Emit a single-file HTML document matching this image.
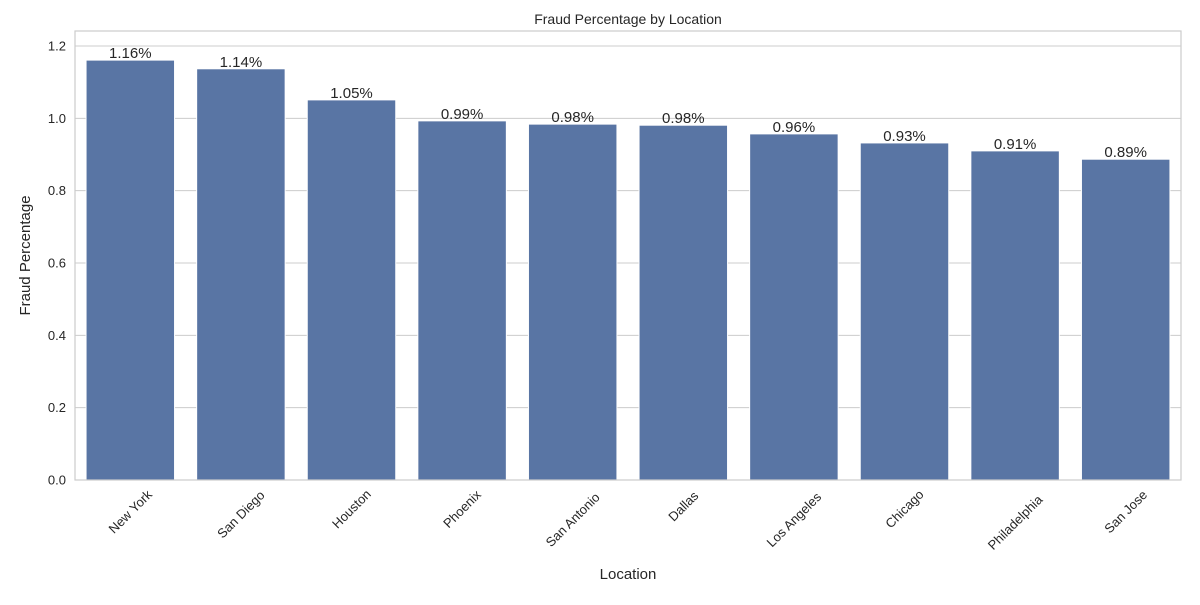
<!DOCTYPE html>
<html><head><meta charset="utf-8"><style>
body{margin:0;background:#fff;}
svg{font-family:"Liberation Sans","DejaVu Sans",sans-serif;}
</style></head><body>
<svg id="chart" width="1200" height="600"></svg>
<script>
const categories=["New York","San Diego","Houston","Phoenix","San Antonio","Dallas","Los Angeles","Chicago","Philadelphia","San Jose"];
const values=[1.161,1.137,1.051,0.993,0.984,0.981,0.957,0.932,0.910,0.887];
const labels=["1.16%","1.14%","1.05%","0.99%","0.98%","0.98%","0.96%","0.93%","0.91%","0.89%"];
const yTicks=[0.0,0.2,0.4,0.6,0.8,1.0,1.2];
const NS="http://www.w3.org/2000/svg";
const svg=document.getElementById('chart');
const L=75,R=1181,T=31,B=480,yMax=1.2*(B-T)/(480-46);
const y=v=>B-(v/yMax)*(B-T);
const slot=(R-L)/categories.length;
const x=i=>L+slot*i;
function mk(tag,a,txt){const e=document.createElementNS(NS,tag);for(const k in a)e.setAttribute(k,a[k]);if(txt!==undefined)e.textContent=txt;svg.appendChild(e);return e;}
yTicks.forEach(t=>{
 const g=mk('line',{x1:L,x2:R,y1:y(t),y2:y(t),stroke:'#cccccc','stroke-width':1});
 
 
 const l=mk('text',{x:L-9,y:y(t)+4.5,'text-anchor':'end','font-size':13,fill:'#262626'},t.toFixed(1));
 
 
});
categories.forEach((c,i)=>{
 const bw=slot*0.8,bx=x(i)+slot*0.1;
 const r=mk('rect',{x:bx,y:y(values[i]),width:bw,height:B-y(values[i]),fill:'#5975a4',stroke:'#ffffff','stroke-width':1});
 
 
 const v=mk('text',{x:bx+bw/2,y:y(values[i])-2,'text-anchor':'middle','font-size':15,fill:'#262626'},labels[i]);
 
 
 const cx=bx+bw/2;
 const ty=B+10+c.length*2.7;
 const t=mk('text',{x:cx,y:ty+4.5,'text-anchor':'middle','font-size':13,fill:'#262626',transform:`rotate(-45 ${cx} ${ty})`},c);
 
 
});
const fr=mk('rect',{x:L,y:T,width:R-L,height:B-T,fill:'none',stroke:'#cccccc','stroke-width':1.2});


const ti=mk('text',{x:(L+R)/2,y:24,'text-anchor':'middle','font-size':14,fill:'#262626'},'Fraud Percentage by Location');


const xt=mk('text',{x:(L+R)/2,y:579,'text-anchor':'middle','font-size':15,fill:'#262626'},'Location');


const yt=mk('text',{x:30,y:(T+B)/2,'text-anchor':'middle','font-size':15,fill:'#262626',transform:`rotate(-90 30 ${(T+B)/2})`},'Fraud Percentage');


</script>
</body></html>
